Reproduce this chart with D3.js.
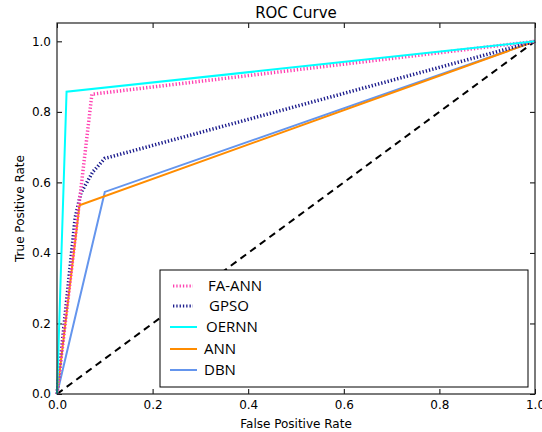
<!DOCTYPE html>
<html>
<head>
<meta charset="utf-8">
<script src="https://cdn.jsdelivr.net/npm/d3@7"></script>
<style>
  body { margin: 0; background: #fff; }
  svg { display: block; }
  .tick text { font-family: "DejaVu Sans", sans-serif; font-size: 12px; fill: #000; }
</style>
</head>
<body>
<div id="chart"></div>
<script>
// ROC curve points: [FPR, TPR]
const faAnn = [[0, 0], [0.073, 0.85], [1, 1]];
const gpso = [[0, 0], [0.038, 0.50], [0.05, 0.57], [0.075, 0.63], [0.10, 0.668], [1, 1]];
const oernn = [[0, 0], [0.02, 0.857], [1, 1]];
const ann = [[0, 0], [0.047, 0.535], [1, 1]];
const dbn = [[0, 0], [0.10, 0.573], [1, 1]];
const chance = [[0, 0], [1, 1]];

const seriesNames = ["FA-ANN", "GPSO", "OERNN", "ANN", "DBN"];
const ticks = [0, 0.2, 0.4, 0.6, 0.8, 1.0];

const props = {
  width: 542, height: 432,
  top: 23, right: 7, bottom: 38, left: 57,
};

const width = props.width - props.left - props.right;
const height = props.height - props.top - props.bottom;

const svg = d3.select("#chart").append("svg")
  .attr("width", props.width)
  .attr("height", props.height);

const g = svg.append("g")
  .attr("transform", `translate(${props.left},${props.top})`);

const x = d3.scaleLinear().domain([0, 1]).range([0, width]);
const y = d3.scaleLinear().domain([0, 1.052]).range([height, 0]);

const fmt = d3.format(".1f");

// axes, ticks pointing inwards (matplotlib classic)
g.append("g").attr("class", "x axis")
  .attr("transform", `translate(0,${height})`)
  .call(d3.axisBottom(x).tickValues(ticks).tickFormat(fmt).tickSizeInner(-5).tickSizeOuter(0).tickPadding(6));
g.append("g").attr("class", "x axis top")
  .call(d3.axisTop(x).tickValues(ticks).tickFormat("").tickSizeInner(-5).tickSizeOuter(0));
g.append("g").attr("class", "y axis")
  .call(d3.axisLeft(y).tickValues(ticks).tickFormat(fmt).tickSizeInner(-5).tickSizeOuter(0).tickPadding(6));
g.append("g").attr("class", "y axis right")
  .attr("transform", `translate(${width},0)`)
  .call(d3.axisRight(y).tickValues(ticks).tickFormat("").tickSizeInner(-5).tickSizeOuter(0));
g.selectAll(".axis .domain").remove();
g.selectAll(".tick line").attr("stroke", "#000");

const line = d3.line().x(d => x(d[0])).y(d => y(d[1]));

const styles = [
  { data: faAnn, color: "#ff3fb0", width: 3.5, dash: "1.3,2" },
  { data: gpso, color: "#1a1a8c", width: 3.5, dash: "1.3,2" },
  { data: oernn, color: "#00ffff", width: 2, dash: null },
  { data: ann, color: "#ff8c00", width: 2, dash: null },
  { data: dbn, color: "#6495ed", width: 2, dash: null },
];

// chance line
g.append("path")
  .datum(chance)
  .attr("d", line)
  .attr("fill", "none")
  .attr("stroke", "#000")
  .attr("stroke-width", 2)
  .attr("stroke-dasharray", "7,5");

// draw order so the cyan line ends up on top like the original
[4, 3, 1, 0, 2].forEach(i => {
  const s = styles[i];
  g.append("path")
    .datum(s.data)
    .attr("d", line)
    .attr("fill", "none")
    .attr("stroke", s.color)
    .attr("stroke-width", s.width)
    .attr("stroke-dasharray", s.dash);
});

// frame
g.append("rect")
  .attr("width", width).attr("height", height)
  .attr("fill", "none").attr("stroke", "#222").attr("stroke-width", 1.2);

// title and axis labels
svg.append("text")
  .attr("x", props.left + width / 2).attr("y", 18)
  .attr("text-anchor", "middle")
  .style("font-family", "DejaVu Sans, sans-serif").style("font-size", "15px")
  .text("ROC Curve");

svg.append("text")
  .attr("x", props.left + width / 2).attr("y", 428)
  .attr("text-anchor", "middle")
  .style("font-family", "DejaVu Sans, sans-serif").style("font-size", "12px")
  .text("False Positive Rate");

svg.append("text")
  .attr("transform", `translate(24,${props.top + height / 2}) rotate(-90)`)
  .attr("text-anchor", "middle")
  .style("font-family", "DejaVu Sans, sans-serif").style("font-size", "12px")
  .text("True Positive Rate");

// legend
const legend = svg.append("g").attr("transform", "translate(160,270)");
legend.append("rect")
  .attr("width", 368).attr("height", 117)
  .attr("fill", "#fff").attr("stroke", "#000").attr("stroke-width", 1);

const rowY = [16, 36, 57, 79, 100];
const textX = [48, 49, 46, 44, 44];
seriesNames.forEach((name, i) => {
  const s = styles[i];
  const dotted = s.dash !== null;
  legend.append("line")
    .attr("x1", dotted ? 13 : 10).attr("x2", dotted ? 33 : 37)
    .attr("y1", rowY[i]).attr("y2", rowY[i])
    .attr("stroke", s.color)
    .attr("stroke-width", dotted ? 3 : 2)
    .attr("stroke-dasharray", s.dash);
  legend.append("text")
    .attr("x", textX[i]).attr("y", rowY[i])
    .attr("dy", "0.35em")
    .style("font-family", "Open Sans, sans-serif").style("font-size", "15px")
    .text(name);
});
</script>
</body>
</html>
